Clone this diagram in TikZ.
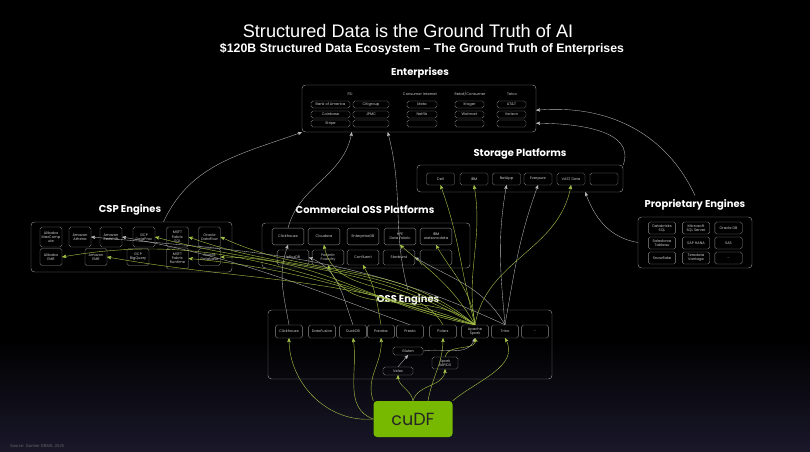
\documentclass[tikz,border=0pt]{standalone}
\usepackage{fontspec}
\setmainfont{Liberation Sans}
\newfontfamily\sketchfont{Poppins}
\usetikzlibrary{calc}
\usetikzlibrary{arrows}
\usetikzlibrary{fit}
\definecolor{boxgray}{RGB}{140,140,140}
\definecolor{txtgray}{RGB}{205,205,205}
\definecolor{linkwhite}{RGB}{185,185,185}
\definecolor{linkgreen}{RGB}{165,195,70}
\definecolor{nvgreen}{RGB}{118,185,0}
\definecolor{bgblue}{RGB}{26,24,42}
\tikzset{
 grp/.style={draw=boxgray, rounded corners=3pt, line width=.4pt, inner sep=0pt},
 org/.style={draw=boxgray, rounded corners=1.5pt, line width=.3pt, text=txtgray, inner sep=0pt, align=center, font=\sketchfont\fontsize{3.1}{3.6}\selectfont},
 cat/.style={text=txtgray, font=\sketchfont\fontsize{3.1}{3.6}\selectfont},
 hdr/.style={text=white, font=\sketchfont\bfseries\fontsize{8.5}{10}\selectfont},
 lnk/.style={linkwhite, line width=.3pt, ->},
 glnk/.style={linkgreen, line width=.35pt, ->},
}

\begin{document}
\begin{tikzpicture}[x=.03cm, y=-.03cm, >=stealth']
\useasboundingbox (0,0) rectangle (810,452);
\fill[black] (0,0) rectangle (810,452);
\shade[top color=black, bottom color=bgblue] (0,340) rectangle (810,452);

\node[text=white, font=\fontsize{15.5}{18}\selectfont] (title) at (408,31) {Structured Data is the Ground Truth of AI};
\node[text=white, font=\bfseries\fontsize{10.5}{12}\selectfont] (subtitle) at (422,49) {\$120B Structured Data Ecosystem -- The Ground Truth of Enterprises};

% enterprises
\node[hdr] (entlbl) at (420,73) {Enterprises};
\node[grp, fit={(302,85) (536,132)}] (ent) {};
\node[cat] (catFSI) at (350,94) {FSI};
\node[cat] (catCI) at (420,94) {Consumer Internet};
\node[cat] (catRC) at (470,94) {Retail/Consumer};
\node[cat] (catTel) at (512,94) {Telco};
\foreach \n/\y/\t in {BoA/104.5/Bank of America, Coin/114.5/Coinbase, Stripe/123.5/Stripe}
 \node[org, minimum width=1.17cm, minimum height=.21cm] (ent\n) at (330.5,\y) {\t};
\foreach \n/\y/\t in {Citi/104.5/Citigroup, JPMC/114.5/JPMC, FSIx/123.5/{}}
 \node[org, minimum width=1.08cm, minimum height=.21cm] (ent\n) at (371,\y) {\t};
\foreach \n/\y/\t in {Meta/104.5/Meta, Netflix/114.5/Netflix, CIx/123.5/{}}
 \node[org, minimum width=.9cm, minimum height=.21cm] (ent\n) at (422,\y) {\t};
\foreach \n/\y/\t in {Kroger/104.5/Kroger, Walmart/114.5/Walmart, RCx/123.5/{}}
 \node[org, minimum width=.87cm, minimum height=.21cm] (ent\n) at (469.5,\y) {\t};
\foreach \n/\y/\t in {ATT/104.5/AT\&T, Verizon/114.5/Verizon, Telx/123.5/{}}
 \node[org, minimum width=.87cm, minimum height=.21cm] (ent\n) at (511.5,\y) {\t};

% storage
\node[hdr] (stolbl) at (520,154) {Storage Platforms};
\node[grp, fit={(417,165) (623,192)}] (sto) {};
\foreach \n/\x/\t in {Dell/440.5/Dell, IBM/474/IBM, NetApp/506.5/NetApp, Pure/538/Everpure, VAST/571/VAST Data, X/604/{}}
 \node[org, minimum width=.84cm, minimum height=.36cm] (sto\n) at (\x,179) {\t};

% csp engines
\node[hdr] (csplbl) at (130,210) {CSP Engines};
\node[grp, fit={(31,222) (232,272)}] (csp) {};
\foreach \n/\x/\t in {Max/51/{Alibaba\\MaxComp\\ute}, Athena/80/{Amazon\\Athena}, Redshift/111/{Amazon\\Redshift}, DataProc/144/{GCP\\DataProc}, FabSQL/177.5/{MSFT\\Fabric\\SQL}, DataFlow/209.5/{Oracle\\DataFlow}}
 \node[org, minimum width=.66cm, minimum height=.6cm] (csp\n) at (\x,237) {\t};
\foreach \n/\x/\t in {EMRali/51/{Alibaba\\EMR}, EMR/96/{Amazon\\EMR}, BQ/138/{GCP\\BigQuery}, OraDB/209.5/{Oracle\\Database}}
 \node[org, minimum width=.66cm, minimum height=.51cm] (csp\n) at (\x,257) {\t};
\node[org, minimum width=.66cm, minimum height=.63cm] (cspFabRT) at (177.5,258.5) {MSFT\\Fabric\\Runtime};

% commercial oss platforms
\node[hdr] (coslbl) at (365,210) {Commercial OSS Platforms};
\node[grp, fit={(262,223) (470,268)}] (cos) {};
\foreach \n/\x/\t in {Click/288/Clickhouse, Cloudera/324/Cloudera, EDB/363/EnterpriseDB, HPE/400/{HPE\\Data Fabric}, IBM/436/{IBM\\watsonx.data}}
 \node[org, minimum width=.95cm, minimum height=.5cm] (cos\n) at (\x,236.5) {\t};
\foreach \n/\x/\t in {Influx/293/InfluxDB, Palantir/328/{Palantir\\Foundry}, Confluent/363/Confluent, Starburst/399/Starburst, X/436/{}}
 \node[org, minimum width=.95cm, minimum height=.45cm] (cos\n) at (\x,257.5) {\t};

% proprietary engines
\node[hdr] (proplbl) at (695,205) {Proprietary Engines};
\node[grp, fit={(638,217) (752,268)}] (prop) {};
\foreach \n/\x/\y/\t in {DBSQL/662/228/{Databricks\\SQL}, MSSQL/696/228/{Microsoft\\SQL Server}, Ora/728.5/228/Oracle DB,
  Tableau/662/243/{Salesforce\\Tableau}, HANA/696/243/SAP HANA, SAS/728.5/243/SAS,
  Snow/662/258/Snowflake, Tera/696/258/{Teradata\\Vantage}, More/728.5/258/{\ldots}}
 \node[org, minimum width=.82cm, minimum height=.36cm] (prop\n) at (\x,\y) {\t};

% oss engines
\node[hdr] (osslbl) at (408,300) {OSS Engines};
\node[grp, fit={(268,310) (552,379)}] (oss) {};
\foreach \n/\x/\t in {Click/289/Clickhouse, Fusion/322/DataFusion, Duck/353/DuckDB, Pandas/381/Pandas, Presto/410/Presto, Polars/443/Polars, Spark/475/{Apache\\Spark}, Trino/505/Trino, More/535/{\ldots}}
 \node[org, minimum width=.8cm, minimum height=.39cm] (oss\n) at (\x,331.5) {\t};
\node[org, minimum width=.9cm, minimum height=.24cm] (ossGluten) at (408,351) {Gluten};
\node[org, minimum width=.78cm, minimum height=.36cm] (ossRapids) at (445,363) {Spark\\RAPIDS};
\node[org, minimum width=.9cm, minimum height=.24cm] (ossVelox) at (398,371) {Velox};

\node[fill=nvgreen, rounded corners=3pt, minimum width=2.37cm, minimum height=1.08cm, text=black!85, font=\sketchfont\fontsize{15}{16}\selectfont] (cudf) at (413,419) {cuDF};
\node[anchor=west, text=black!60, font=\fontsize{3.5}{4}\selectfont] (src) at (6,446) {Source: Gartner DBMS, 2025};

% links to enterprises and storage
\draw[lnk] ($(csp.north)+(32,0)$) to[out=65, in=200] (ent.south west);
\draw[lnk] (cosClick.north) to[out=75, in=260] ($(ent.south west)+(50,0)$);
\draw[lnk] (osslbl.north) to[out=105, in=285] ($(ent.south west)+(86,0)$);
\draw[lnk] (proplbl.north) to[out=115, in=5] ($(ent.south east)+(0,-22)$);
\draw[lnk] (sto.north east) to[out=70, in=0] ($(ent.south east)+(0,-9)$);
\draw[lnk] (prop.west) to[out=170, in=290] ($(sto.south east)+(-38,0)$);
\draw[lnk] (ossTrino.north) to[out=155, in=-5] (cspAthena.east);
\draw[lnk] (ossPresto.north) to[out=160, in=-10] (cspRedshift.east);
\draw[lnk] (ossTrino.north) to[out=120, in=-30] (cosStarburst.east);
\draw[lnk] (ossClick.north) to[out=100, in=250] (cosClick.south);
\draw[lnk] (ossDuck.north) to[out=110, in=-20] (cosInflux.east);
\draw[lnk] (ossTrino.north) to[out=95, in=260] (stoNetApp.south);
\draw[lnk] (ossTrino.north) to[out=80, in=250] (stoPure.south);
\draw[lnk] (ossVelox.north) -- (ossGluten.south);
\draw[lnk] (ossGluten.east) to[out=10, in=250] (ossSpark.south);

% links from cudf
\draw[glnk] (cudf.north) to[out=100, in=270] (ossVelox.south);
\draw[glnk] (cudf.north) to[out=75, in=270] (ossRapids.south);
\draw[glnk] (cudf.north west) to[out=110, in=275] (ossPandas.south);
\draw[glnk] ($(cudf.north)+(15,0)$) to[out=80, in=270] (ossPolars.south);
\draw[glnk] (cudf.west) to[out=160, in=280] (ossDuck.south);
\draw[glnk] (cudf.west) to[out=185, in=270] (ossClick.south);
\draw[glnk] (cudf.north east) to[out=40, in=300] (ossTrino.south);
\draw[glnk] (ossRapids.north) to[out=80, in=285] (ossSpark.south);

% spark and friends upward
\draw[glnk] (ossSpark.north) to[out=105, in=290] (stoDell.south);
\draw[glnk] (ossSpark.north) to[out=100, in=280] (stoIBM.south);
\draw[glnk] (ossSpark.north) to[out=80, in=260] (stoVAST.south);
\draw[glnk] (ossSpark.north) to[out=150, in=-15] (cspDataProc.east);
\draw[glnk] (ossSpark.north) to[out=145, in=-20] (cspFabSQL.east);
\draw[glnk] (ossSpark.north) to[out=140, in=-25] (cspDataFlow.east);
\draw[glnk] (ossSpark.north) to[out=160, in=-10] (cspEMR.east);
\draw[glnk] (ossSpark.north) to[out=165, in=-5] (cspFabRT.east);
\draw[glnk] (ossSpark.north) to[out=170, in=0] (cspOraDB.east);
\draw[glnk] (ossSpark.north) to[out=165, in=10] (cspEMRali.east);
\draw[glnk] (ossSpark.north) to[out=120, in=-40] (cosHPE.south);
\draw[glnk] (ossSpark.north) to[out=95, in=-60] (cosIBM.south);
\draw[glnk] (ossSpark.north) to[out=140, in=-70] (cosPalantir.south);
\draw[glnk] (ossPolars.north) to[out=120, in=-80] (cosCloudera.south);
\draw[glnk] (ossPandas.north) to[out=100, in=-60] (cosConfluent.south);
\end{tikzpicture}
\end{document}
